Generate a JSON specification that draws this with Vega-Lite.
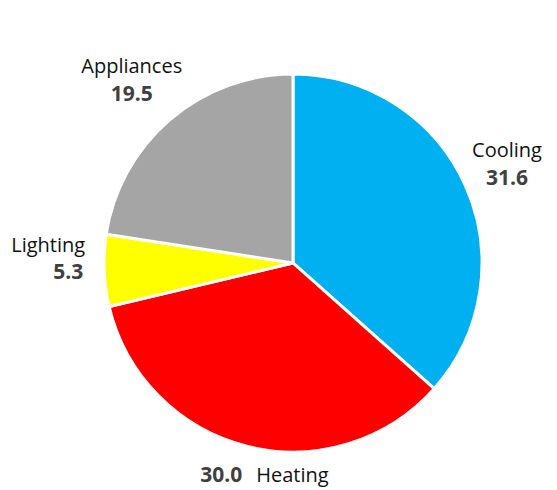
{
  "$schema": "https://vega.github.io/schema/vega-lite/v6.json",
  "width": 528,
  "height": 454,
  "autosize": {"type": "none"},
  "padding": {"left": 29, "top": 36, "right": 0, "bottom": 0},
  "background": "white",
  "view": {"stroke": null},
  "data": {"values": [
    {"cat": "Cooling", "value": 31.6, "ord": 1},
    {"cat": "Heating", "value": 30.0, "ord": 2},
    {"cat": "Lighting", "value": 5.3, "ord": 3},
    {"cat": "Appliances", "value": 19.5, "ord": 4}
  ]},
  "encoding": {
    "theta": {"field": "value", "type": "quantitative", "stack": true},
    "color": {"field": "cat", "type": "nominal", "legend": null,
      "scale": {"domain": ["Cooling", "Heating", "Lighting", "Appliances"], "range": ["#00B0F0", "#FF0000", "#FFFF00", "#A5A5A5"]}},
    "order": {"field": "ord", "type": "quantitative"}
  },
  "layer": [
    {"mark": {"type": "arc", "outerRadius": 189, "stroke": "white", "strokeWidth": 3}},
    {"mark": {"type": "text", "radius": 240, "dx": -5, "dy": -14, "font": "Open Sans", "fontSize": 20, "fill": "#111111", "align": "center", "baseline": "middle"},
     "encoding": {"text": {"condition": {"test": "datum.cat === 'Cooling' || datum.cat === 'Appliances'", "field": "cat"}, "value": ""}}},
    {"mark": {"type": "text", "radius": 240, "dx": -5, "dy": 14, "font": "Open Sans", "fontSize": 21, "fontWeight": "bold", "fill": "#404040", "align": "center", "baseline": "middle"},
     "encoding": {"text": {"condition": {"test": "datum.cat === 'Cooling' || datum.cat === 'Appliances'", "field": "value", "format": ".1f"}, "value": ""}}},
    {"mark": {"type": "text", "radius": 225, "dx": 17, "dy": -26, "font": "Open Sans", "fontSize": 20, "fill": "#111111", "align": "right", "baseline": "middle"},
     "encoding": {"text": {"condition": {"test": "datum.cat === 'Lighting'", "field": "cat"}, "value": ""}}},
    {"mark": {"type": "text", "radius": 225, "dx": 15, "dy": 1, "font": "Open Sans", "fontSize": 21, "fontWeight": "bold", "fill": "#404040", "align": "right", "baseline": "middle"},
     "encoding": {"text": {"condition": {"test": "datum.cat === 'Lighting'", "field": "value", "format": ".1f"}, "value": ""}}},
    {"mark": {"type": "text", "radius": 220, "dx": 3, "dy": 0, "font": "Open Sans", "fontSize": 21, "fontWeight": "bold", "fill": "#404040", "align": "right", "baseline": "middle"},
     "encoding": {"text": {"condition": {"test": "datum.cat === 'Heating'", "field": "value", "format": ".1f"}, "value": ""}}},
    {"mark": {"type": "text", "radius": 220, "dx": 17, "dy": 0, "font": "Open Sans", "fontSize": 20, "fill": "#111111", "align": "left", "baseline": "middle"},
     "encoding": {"text": {"condition": {"test": "datum.cat === 'Heating'", "field": "cat"}, "value": ""}}}
  ]
}
